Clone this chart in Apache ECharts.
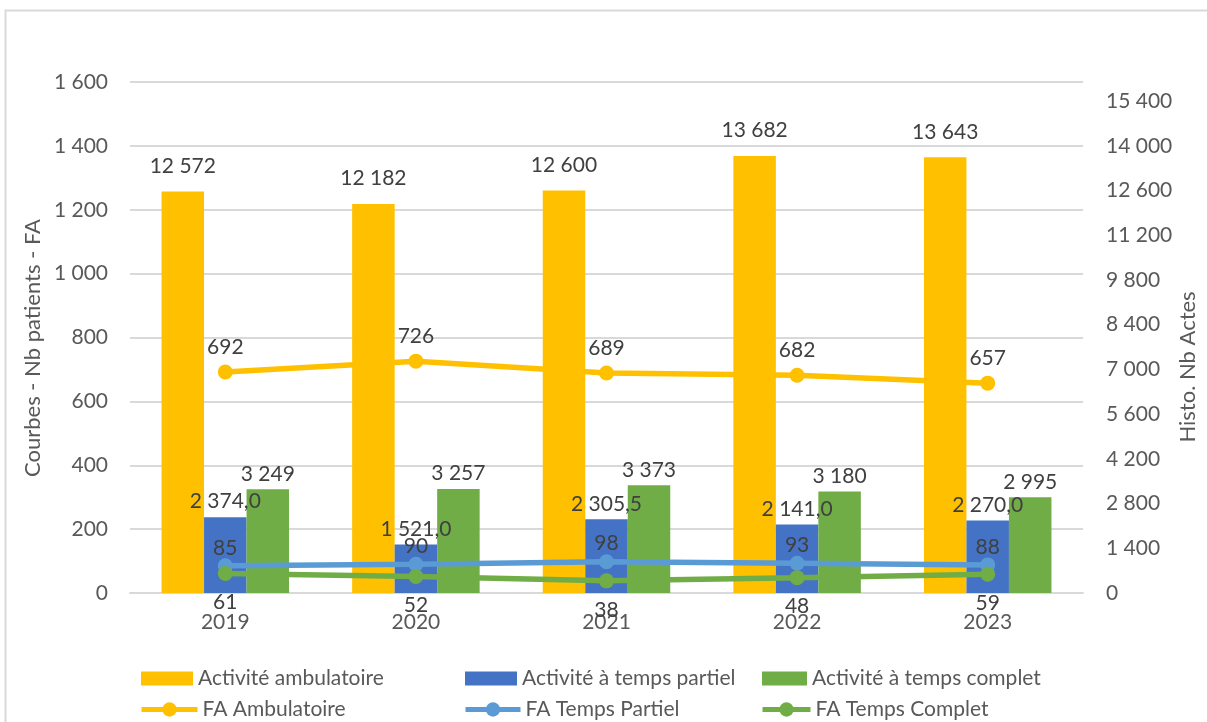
<!DOCTYPE html>
<html>
<head>
<meta charset="utf-8">
<script src="https://cdn.jsdelivr.net/npm/echarts@6/dist/echarts.min.js"></script>
<style>
  html, body { margin: 0; padding: 0; background: #fff; }
  #chart { width: 1207px; height: 722px; }
</style>
</head>
<body>
<div id="chart"></div>
<script>
// Years shown on the category axis
var years = ['2019', '2020', '2021', '2022', '2023'];

// Bars: number of acts (right axis)
var actesAmbulatoire = [12572, 12182, 12600, 13682, 13643];
var actesTempsPartiel = [2374.0, 1521.0, 2305.5, 2141.0, 2270.0];
var actesTempsComplet = [3249, 3257, 3373, 3180, 2995];

// Lines: number of patients - FA (left axis)
var faAmbulatoire = [692, 726, 689, 682, 657];
var faTempsPartiel = [85, 90, 98, 93, 88];
var faTempsComplet = [61, 52, 38, 48, 59];

// Axis settings
var leftMax = 1600, leftStep = 200;
var rightMax = 16000, rightStep = 1400;

var FONT = 'Lato, "Open Sans", sans-serif';
var FS = 21;
var AXIS_COLOR = '#595959';
var LABEL_COLOR = '#404040';

// French-style number formatting: space as thousands separator, comma decimals
function fmt(v, decimals) {
  var s = Number(v).toFixed(decimals || 0);
  var parts = s.split('.');
  parts[0] = parts[0].replace(/\B(?=(\d{3})+(?!\d))/g, ' ');
  return parts.length > 1 ? parts[0] + ',' + parts[1] : parts[0];
}

var labelText = { fontFamily: FONT, fontSize: FS, color: LABEL_COLOR };

function barSeries(name, data, color, decimals, dist) {
  return {
    name: name, type: 'bar', yAxisIndex: 1, data: data,
    barWidth: 42.5, barGap: '0%',
    itemStyle: { color: color },
    label: Object.assign({
      show: true, position: 'top', distance: dist,
      formatter: function (p) { return fmt(p.value, decimals); }
    }, labelText),
    z: 2
  };
}

function lineSeries(name, data, color, pos, dist) {
  return {
    name: name, type: 'line', yAxisIndex: 0, data: data,
    symbol: 'circle', symbolSize: 15,
    lineStyle: { color: color, width: 5.5 },
    itemStyle: { color: color },
    label: Object.assign({
      show: true, position: pos, distance: dist,
      formatter: function (p) { return fmt(p.value, 0); }
    }, labelText),
    z: 5
  };
}

// One legend block per entry so each can sit at its own column
function barLegend(name, left, iconW) {
  return {
    data: [name], left: left, top: 668, icon: 'rect',
    itemWidth: iconW, itemHeight: 14, itemGap: 0,
    textStyle: { fontFamily: FONT, fontSize: FS, color: AXIS_COLOR, padding: [0, 0, 0, 0] },
    padding: 0, selectedMode: false
  };
}

function lineLegend(name, left, iconW) {
  return {
    data: [name], left: left, top: 699,
    itemWidth: iconW, itemHeight: 18, itemGap: 0,
    lineStyle: { width: 5 },
    textStyle: { fontFamily: FONT, fontSize: FS, color: AXIS_COLOR, padding: [0, 0, 0, 0] },
    padding: 0, selectedMode: false
  };
}

var chart = echarts.init(document.getElementById('chart'), null, { renderer: 'canvas' });

chart.setOption({
  animation: false,
  backgroundColor: '#ffffff',
  textStyle: { fontFamily: FONT },
  grid: { left: 130, right: 124, top: 82, bottom: 129, outerBoundsMode: 'none' },
  legend: [
    barLegend('Activité ambulatoire', 141, 52),
    barLegend('Activité à temps partiel', 465, 52),
    barLegend('Activité à temps complet', 762, 45),
    lineLegend('FA Ambulatoire', 139, 56),
    lineLegend('FA Temps Partiel', 463, 55),
    lineLegend('FA Temps Complet', 760, 48)
  ],
  xAxis: {
    type: 'category', data: years, boundaryGap: true,
    axisLine: { lineStyle: { color: '#d9d9d9', width: 2 } },
    axisTick: { show: false },
    axisLabel: { fontFamily: FONT, fontSize: FS, color: AXIS_COLOR, margin: 19 }
  },
  yAxis: [
    {
      type: 'value', min: 0, max: leftMax, interval: leftStep,
      axisLine: { show: false }, axisTick: { show: false },
      splitLine: { lineStyle: { color: '#d9d9d9', width: 2 } },
      axisLabel: {
        fontFamily: FONT, fontSize: FS, color: AXIS_COLOR, margin: 22,
        formatter: function (v) { return fmt(v, 0); }
      }
    },
    {
      type: 'value', min: 0, max: rightMax, interval: rightStep,
      axisLine: { show: false }, axisTick: { show: false },
      splitLine: { show: false },
      axisLabel: {
        fontFamily: FONT, fontSize: FS, color: AXIS_COLOR, margin: 23,
        showMaxLabel: false,
        formatter: function (v) { return fmt(v, 0); }
      }
    }
  ],
  graphic: [
    {
      type: 'rect', silent: true, z: -1,
      shape: { x: 5.5, y: 10.5, width: 1300, height: 800 },
      style: { fill: null, stroke: '#d9d9d9', lineWidth: 2 }
    },
    {
      type: 'text', x: 33, y: 348, rotation: Math.PI / 2,
      style: {
        text: 'Courbes - Nb patients - FA', fontFamily: FONT, fontSize: 22,
        fill: AXIS_COLOR, align: 'center', verticalAlign: 'middle'
      }
    },
    {
      type: 'text', x: 1188, y: 367, rotation: Math.PI / 2,
      style: {
        text: 'Histo. Nb Actes', fontFamily: FONT, fontSize: 22,
        fill: AXIS_COLOR, align: 'center', verticalAlign: 'middle'
      }
    }
  ],
  series: [
    barSeries('Activité ambulatoire', actesAmbulatoire, '#FFC000', 0, 15),
    barSeries('Activité à temps partiel', actesTempsPartiel, '#4472C4', 1, 5),
    barSeries('Activité à temps complet', actesTempsComplet, '#70AD47', 0, 5),
    lineSeries('FA Ambulatoire', faAmbulatoire, '#FFC000', 'top', 7),
    lineSeries('FA Temps Partiel', faTempsPartiel, '#5B9BD5', 'top', 0),
    lineSeries('FA Temps Complet', faTempsComplet, '#70AD47', 'bottom', 11)
  ]
});
</script>
</body>
</html>
